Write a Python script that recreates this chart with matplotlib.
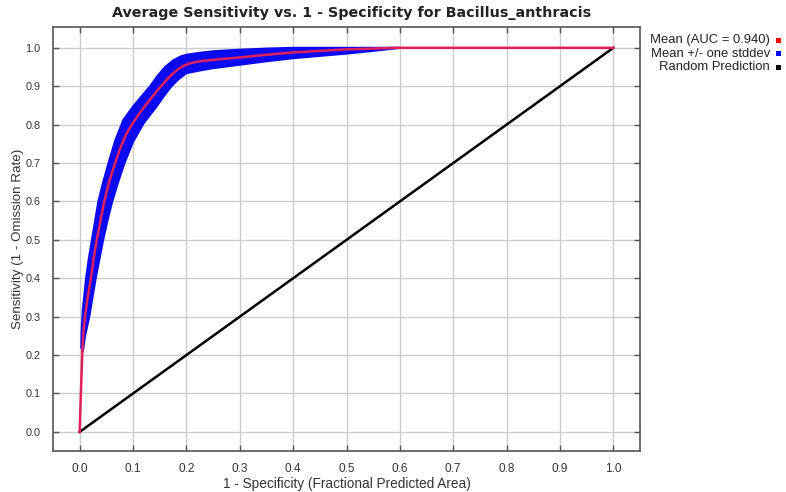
import matplotlib
matplotlib.use('Agg')
import matplotlib.pyplot as plt
from matplotlib.patches import Rectangle

plt.rcParams['font.family'] = ['Liberation Sans', 'DejaVu Sans']

# 平均ROC曲線
fpr_mean = [0.0, 0.002, 0.004, 0.005, 0.007, 0.010, 0.015, 0.021, 0.026, 0.032,
            0.039, 0.046, 0.055, 0.064, 0.075, 0.087, 0.100, 0.115, 0.130, 0.145,
            0.160, 0.172, 0.185, 0.197, 0.21, 0.23, 0.26, 0.30, 0.35, 0.40,
            0.45, 0.50, 0.55, 0.593, 0.8, 1.0]
tpr_mean = [0.0, 0.09, 0.17, 0.21, 0.26, 0.30, 0.35, 0.40, 0.45, 0.50,
            0.55, 0.60, 0.65, 0.69, 0.735, 0.775, 0.805, 0.835, 0.862, 0.888,
            0.912, 0.930, 0.945, 0.955, 0.961, 0.966, 0.970, 0.975, 0.982, 0.988,
            0.992, 0.996, 0.998, 1.0, 1.0, 1.0]

# 平均 + 1 標準偏差（上側の縁）
fpr_upper = [0.003, 0.004, 0.006, 0.009, 0.012, 0.017, 0.023, 0.029, 0.035, 0.044,
             0.054, 0.067, 0.082, 0.100, 0.115, 0.132, 0.146, 0.160, 0.175, 0.190,
             0.200, 0.225, 0.25, 0.30, 0.35, 0.40, 0.50, 0.60]
tpr_upper = [0.22, 0.27, 0.32, 0.36, 0.40, 0.45, 0.50, 0.55, 0.60, 0.65,
             0.70, 0.76, 0.8125, 0.847, 0.872, 0.90, 0.927, 0.95, 0.967, 0.978,
             0.982, 0.987, 0.991, 0.995, 0.998, 1.0, 1.0, 1.0]

# 平均 - 1 標準偏差（下側の縁）
fpr_lower = [0.006, 0.010, 0.018, 0.024, 0.030, 0.037, 0.044, 0.052, 0.061, 0.072,
             0.084, 0.100, 0.120, 0.144, 0.158, 0.172, 0.185, 0.200, 0.225, 0.25,
             0.30, 0.35, 0.40, 0.50, 0.55, 0.60]
tpr_lower = [0.21, 0.25, 0.30, 0.35, 0.40, 0.45, 0.50, 0.55, 0.60, 0.65,
             0.70, 0.755, 0.804, 0.847, 0.875, 0.90, 0.918, 0.934, 0.941, 0.947,
             0.956, 0.965, 0.973, 0.985, 0.992, 1.0]

ticks = [0.0, 0.1, 0.2, 0.3, 0.4, 0.5, 0.6, 0.7, 0.8, 0.9, 1.0]
legend_labels = ['Mean (AUC = 0.940)', 'Mean +/- one stddev', 'Random Prediction']
legend_colors = ['#ff0000', '#0000ff', '#000000']

W, H = 786, 492
fig = plt.figure(figsize=(W / 100, H / 100), dpi=100)
ax = fig.add_axes([53 / W, 1 - 450.7 / H, (640 - 53) / W, (450.7 - 26.7) / H])

# 標準偏差の帯
band_x = fpr_upper + fpr_lower[::-1]
band_y = tpr_upper + tpr_lower[::-1]
ax.fill(band_x, band_y, facecolor='#0a0af0', edgecolor='#0a0af0', lw=1.5,
        joinstyle='round', zorder=3)

# ランダム予測
ax.plot([0, 1], [0, 1], color='black', lw=1.8, zorder=4)
# 平均
ax.plot(fpr_mean, tpr_mean, color='#e0205a', lw=1.8, zorder=5)

ax.set_xlim(-0.05, 1.05)
ax.set_ylim(-0.049, 1.055)
ax.set_xticks(ticks)
ax.set_yticks(ticks)
ax.set_xticklabels([f'{t:.1f}' for t in ticks])
ax.set_yticklabels([f'{t:.1f}' for t in ticks])
ax.tick_params(direction='in', length=4, width=1, top=True, right=True,
               labelsize=8.5, labelcolor='#333333', color='#555555', pad=9)
ax.tick_params(axis='y', labelsize=7.8)
ax.grid(True, color='#cccccc', lw=1, zorder=0)
ax.set_axisbelow(True)
for sp in ax.spines.values():
    sp.set_color('#555555')
    sp.set_linewidth(1.2)

ax.set_xlabel('1 - Specificity (Fractional Predicted Area)', fontsize=9.8, color='#333333', labelpad=1)
ax.set_ylabel('Sensitivity (1 - Omission Rate)', fontsize=9.6, color='#333333', labelpad=1)
ax.set_title('Average Sensitivity vs. 1 - Specificity for Bacillus_anthracis',
             fontsize=10.3, fontweight='bold', color='#222222', pad=7,
             x=0.508, family=['DejaVu Sans'])

# 凡例（右寄せ、色の四角は右側）
for i, (label, c) in enumerate(zip(legend_labels, legend_colors)):
    yc = 40 + 13.7 * i
    fig.text(770 / W, 1 - yc / H, label, ha='right', va='center',
             fontsize=9.4, color='#222222')
    fig.add_artist(Rectangle((776 / W, 1 - (yc + 2.5) / H), 5 / W, 5 / H,
                             transform=fig.transFigure, facecolor=c, edgecolor='none'))

fig.savefig('out.png', dpi=100)
